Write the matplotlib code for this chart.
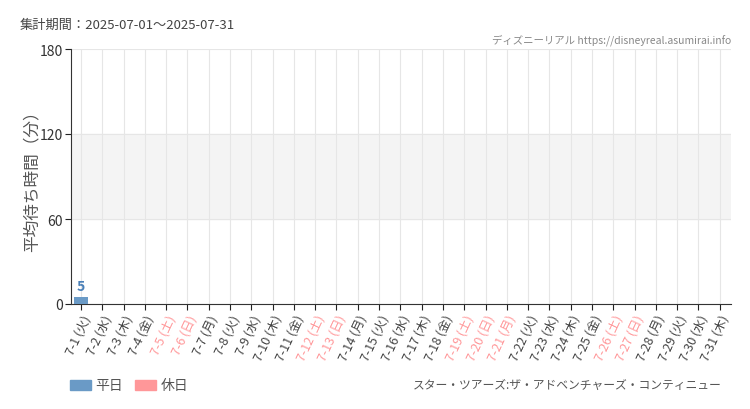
import matplotlib
matplotlib.use('Agg')
import matplotlib.pyplot as plt
import numpy as np

plt.rcParams['font.family'] = ['Noto Sans CJK JP', 'DejaVu Sans']

days = [f'7-{d}' for d in range(1, 32)]
youbi = ['火', '水', '木', '金', '土', '日', '月'] * 5
youbi = youbi[:31]
holidays = ['7-5', '7-6', '7-12', '7-13', '7-19', '7-20', '7-21', '7-26', '7-27']
waits = [5] + [0] * 30
yticks = [0, 60, 120, 180]

heijitsu = '#6a9ac6'
kyujitsu = '#ff9799'
textgray = '#444444'

fig = plt.figure(figsize=(7.5, 4.1), dpi=100)
ax = fig.add_axes([71 / 750, 1 - 305 / 410, 660 / 750, 255 / 410])

x = np.arange(len(days))
colors = [kyujitsu if d in holidays else heijitsu for d in days]
ax.axhspan(60, 120, color='#f4f4f4', zorder=0)
ax.bar(x, waits, width=0.7, color=colors, zorder=3)
for xi, v in zip(x, waits):
    if v > 0:
        ax.text(xi, v + 3, str(v), ha='center', va='bottom', color='#4a80b8', fontsize=10,
                fontweight='bold', zorder=4)

ax.set_xlim(-0.47, 30.53)
ax.set_ylim(0, 180)
ax.set_yticks(yticks)
ax.set_yticklabels([str(t) for t in yticks], fontsize=10, color='#333333')
ax.set_xticks(x)
ax.set_xticklabels([f'{d} ({w})' for d, w in zip(days, youbi)], rotation=65,
                   ha='right', rotation_mode='anchor', fontsize=9)
for lab, d in zip(ax.get_xticklabels(), days):
    lab.set_color(kyujitsu if d in holidays else textgray)
ax.grid(True, color='#e6e6e6', linewidth=0.8, zorder=1)
ax.set_axisbelow(True)
for s in ['top', 'right']:
    ax.spines[s].set_visible(False)
ax.spines['left'].set_color('#333333')
ax.spines['bottom'].set_color('#333333')
ax.tick_params(length=4, color='#222222', pad=2)
ax.set_ylabel('平均待ち時間（分）', fontsize=12, color='#555555')
ax.yaxis.set_label_coords(-0.046, 0.5)

fig.text(20 / 750, 1 - 25 / 410, '集計期間：2025-07-01～2025-07-31', fontsize=9.5, color='#444444', va='center')
fig.text(731 / 750, 1 - 40 / 410, 'ディズニーリアル https://disneyreal.asumirai.info', fontsize=7.5,
         color='#888888', ha='right', va='center')
fig.text(722 / 750, 1 - 386 / 410, 'スター・ツアーズ:ザ・アドベンチャーズ・コンティニュー', fontsize=8.5,
         color='#555555', ha='right', va='center')

ax_leg_y = 1 - 386 / 410
fig.patches.append(plt.Rectangle((70 / 750, ax_leg_y - 5 / 410), 21 / 750, 10 / 410,
                                 transform=fig.transFigure, color=heijitsu))
fig.text(95 / 750, ax_leg_y, '平日', fontsize=10, color='#555555', va='center')
fig.patches.append(plt.Rectangle((135 / 750, ax_leg_y - 5 / 410), 21 / 750, 10 / 410,
                                 transform=fig.transFigure, color=kyujitsu))
fig.text(161 / 750, ax_leg_y, '休日', fontsize=10, color='#555555', va='center')

fig.savefig('out.png', dpi=100)
